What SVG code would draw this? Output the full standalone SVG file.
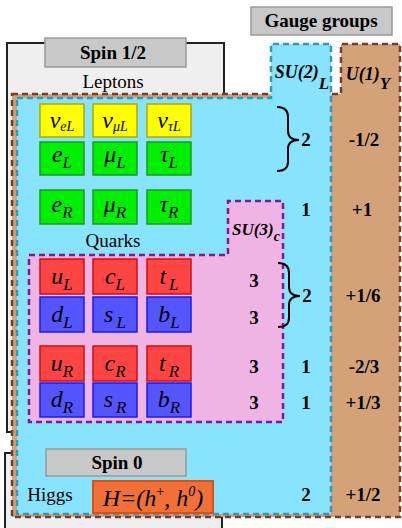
<svg xmlns="http://www.w3.org/2000/svg" width="402" height="528" viewBox="0 0 402 528" font-family="'Liberation Serif', 'Times New Roman', 'DejaVu Serif', serif">
<defs>
<style>
text{font-family:'Liberation Serif','Times New Roman','DejaVu Serif',serif}
.lbl{font-size:19px;font-weight:bold;text-anchor:middle;fill:#000}
.reg{font-size:19px;text-anchor:middle;fill:#000}
.num{font-size:19px;font-weight:bold;text-anchor:middle;fill:#000}
.grp{font-size:18px;font-weight:bold;font-style:italic;text-anchor:middle;fill:#000}
.grp3{font-size:17px;font-weight:bold;font-style:italic;text-anchor:middle;fill:#000}
.pt{font-size:24px;font-style:italic;text-anchor:middle;fill:#000}
.sub{font-size:17px}
.subs{font-size:14px}
.sup{font-size:14px}
.hd{fill:#c8c8c8;stroke:#9a9a9a;stroke-width:1.5}
.spin{fill:#efefef;stroke:#222;stroke-width:2}
.y{fill:#ffff00;stroke:#b5a500;stroke-width:1.5}
.g{fill:#00ee00;stroke:#1a9a1a;stroke-width:1.5}
.r{fill:#ff4444;stroke:#cc1111;stroke-width:1.5}
.b{fill:#5555ff;stroke:#1a1aee;stroke-width:1.5}
.brace{fill:none;stroke:#000;stroke-width:2}
</style>
</defs>
<rect width="402" height="528" fill="#ffffff"/>
<g id="spinhalf-box"><rect class="spin" x="7" y="43" width="217" height="389"/></g>
<g id="spin0-box"><rect class="spin" x="5" y="453" width="217" height="90"/></g>
<g id="u1-region"><path d="M12,94 H341 V44 H400 V517 H12 Z" fill="#d4a278" stroke="#7b3b2b" stroke-width="2.5" stroke-dasharray="6,4"/></g>
<g id="su2-region"><path d="M17,98 H271 V44 H331 V514 H17 Z" fill="#88e4fc" stroke="#3399bb" stroke-width="2.5" stroke-dasharray="6,4"/></g>
<g id="su3-region"><path d="M29,255 H228 V201 H283 V422 H29 Z" fill="#f0b4e4" stroke="#7a1a9a" stroke-width="2.5" stroke-dasharray="6,4"/></g>
<g id="gauge-groups"><rect class="hd" x="251" y="7" width="141" height="28"/><text class="lbl" x="321" y="27">Gauge groups</text></g>
<g id="spin-half"><rect class="hd" x="45" y="38" width="141" height="29"/><text class="lbl" x="113" y="59">Spin 1/2</text></g>
<g id="spin-zero"><rect class="hd" x="46" y="449" width="140" height="27"/><text class="lbl" x="117" y="469">Spin 0</text></g>
<text class="reg" x="113" y="88">Leptons</text>
<text class="reg" x="113" y="247">Quarks</text>
<text class="reg" x="50" y="501">Higgs</text>
<g id="su2-label"><text class="grp" x="302" y="78">SU(2)<tspan class="sub" dy="11">L</tspan></text></g>
<g id="u1-label"><text class="grp" x="368" y="80">U(1)<tspan class="sub" dy="9">Y</tspan></text></g>
<g id="su3-label"><text class="grp3" x="256" y="235">SU(3)<tspan class="subs" dy="6">c</tspan></text></g>
<g id="nu-e"><rect class="y" x="40" y="104" width="44" height="33"/><text class="pt" x="62" y="128">ν<tspan class="subs" dy="3">eL</tspan></text></g>
<g id="nu-mu"><rect class="y" x="93" y="104" width="44" height="33"/><text class="pt" x="115" y="128">ν<tspan class="subs" dy="3">μL</tspan></text></g>
<g id="nu-tau"><rect class="y" x="147" y="104" width="44" height="33"/><text class="pt" x="169" y="128">ν<tspan class="subs" dy="3">τL</tspan></text></g>
<g id="e-L"><rect class="g" x="40" y="142" width="44" height="33"/><text class="pt" x="62" y="162">e<tspan class="sub" dy="6">L</tspan></text></g>
<g id="mu-L"><rect class="g" x="93" y="142" width="44" height="33"/><text class="pt" x="115" y="162">μ<tspan class="sub" dy="6">L</tspan></text></g>
<g id="tau-L"><rect class="g" x="147" y="142" width="44" height="33"/><text class="pt" x="169" y="162">τ<tspan class="sub" dy="6">L</tspan></text></g>
<g id="e-R"><rect class="g" x="40" y="190" width="44" height="34"/><text class="pt" x="62" y="212">e<tspan class="sub" dy="6">R</tspan></text></g>
<g id="mu-R"><rect class="g" x="93" y="190" width="44" height="34"/><text class="pt" x="115" y="212">μ<tspan class="sub" dy="6">R</tspan></text></g>
<g id="tau-R"><rect class="g" x="147" y="190" width="44" height="34"/><text class="pt" x="169" y="212">τ<tspan class="sub" dy="6">R</tspan></text></g>
<g id="u-L"><rect class="r" x="40" y="259" width="44" height="35"/><text class="pt" x="62" y="284">u<tspan class="sub" dy="6">L</tspan></text></g>
<g id="c-L"><rect class="r" x="93" y="259" width="44" height="35"/><text class="pt" x="115" y="284">c<tspan class="sub" dy="6">L</tspan></text></g>
<g id="t-L"><rect class="r" x="147" y="259" width="44" height="35"/><text class="pt" x="169" y="284">t<tspan class="sub" dy="6" dx="3">L</tspan></text></g>
<g id="d-L"><rect class="b" x="40" y="297" width="44" height="35"/><text class="pt" x="62" y="322">d<tspan class="sub" dy="6">L</tspan></text></g>
<g id="s-L"><rect class="b" x="93" y="297" width="44" height="35"/><text class="pt" x="115" y="322">s<tspan class="sub" dy="6" dx="3">L</tspan></text></g>
<g id="b-L"><rect class="b" x="147" y="297" width="44" height="35"/><text class="pt" x="169" y="322">b<tspan class="sub" dy="6">L</tspan></text></g>
<g id="u-R"><rect class="r" x="40" y="346" width="44" height="35"/><text class="pt" x="62" y="371">u<tspan class="sub" dy="6">R</tspan></text></g>
<g id="c-R"><rect class="r" x="93" y="346" width="44" height="35"/><text class="pt" x="115" y="371">c<tspan class="sub" dy="6">R</tspan></text></g>
<g id="t-R"><rect class="r" x="147" y="346" width="44" height="35"/><text class="pt" x="169" y="371">t<tspan class="sub" dy="6" dx="3">R</tspan></text></g>
<g id="d-R"><rect class="b" x="40" y="383" width="44" height="34"/><text class="pt" x="62" y="407">d<tspan class="sub" dy="6">R</tspan></text></g>
<g id="s-R"><rect class="b" x="93" y="383" width="44" height="34"/><text class="pt" x="115" y="407">s<tspan class="sub" dy="6" dx="3">R</tspan></text></g>
<g id="b-R"><rect class="b" x="147" y="383" width="44" height="34"/><text class="pt" x="169" y="407">b<tspan class="sub" dy="6">R</tspan></text></g>
<g id="higgs"><rect x="93" y="481" width="120" height="32" fill="#f07038" stroke="#e04e10" stroke-width="2"/><text class="pt" x="153" y="506">H=(h<tspan class="sup" style="font-style:normal" dy="-10">+</tspan><tspan dy="10">, h</tspan><tspan class="sup" dy="-10">0</tspan><tspan dy="10">)</tspan></text></g>
<g id="connectors">
<path class="brace" d="M277,107 Q288,107 288,117 L288,131 Q288,140 299,140 Q288,140 288,149 L288,162 Q288,171 277,171"/>
<path class="brace" d="M278,263 Q289,263 289,273 L289,287 Q289,296 300,296 Q289,296 289,305 L289,318 Q289,327 278,327"/>
</g>
<text class="num" x="306" y="146">2</text>
<text class="num" x="364" y="146">-1/2</text>
<text class="num" x="306" y="216">1</text>
<text class="num" x="362" y="216">+1</text>
<text class="num" x="254" y="287">3</text>
<text class="num" x="254" y="324">3</text>
<text class="num" x="307" y="302">2</text>
<text class="num" x="363" y="302">+1/6</text>
<text class="num" x="254" y="373">3</text>
<text class="num" x="306" y="373">1</text>
<text class="num" x="364" y="373">-2/3</text>
<text class="num" x="254" y="409">3</text>
<text class="num" x="306" y="409">1</text>
<text class="num" x="363" y="409">+1/3</text>
<text class="num" x="306" y="501">2</text>
<text class="num" x="363" y="501">+1/2</text>
</svg>
